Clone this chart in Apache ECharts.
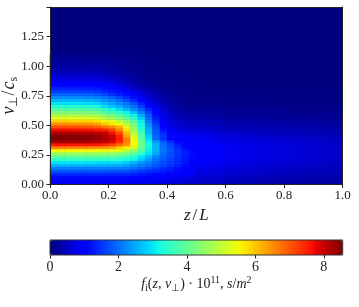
<!DOCTYPE html>
<html><head><meta charset="utf-8">
<script src="https://cdn.jsdelivr.net/npm/echarts@6/dist/echarts.min.js"></script>
<style>html,body{margin:0;padding:0;background:#fff}#c{width:359px;height:307px}</style>
</head><body><div id="c"></div>
<script>
// ---- fine cells: z/L in [0,0.5] (step 0.025), v_perp/c_s step 0.025 ----
const zFine = [0.0125,0.0375,0.0625,0.0875,0.1125,0.1375,0.1625,0.1875,0.2125,0.2375,0.2625,0.2875,0.3125,0.3375,0.3625,0.3875,0.4125,0.4375,0.4625,0.4875];
const vFine = [0.0125,0.0375,0.0625,0.0875,0.1125,0.1375,0.1625,0.1875,0.2125,0.2375,0.2625,0.2875,0.3125,0.3375,0.3625,0.3875,0.4125,0.4375,0.4625,0.4875,0.5125,0.5375,0.5625,0.5875,0.6125,0.6375,0.6625,0.6875,0.7125,0.7375,0.7625,0.7875,0.8125,0.8375,0.8625,0.8875,0.9125,0.9375,0.9625,0.9875,1.0125,1.0375,1.0625,1.0875,1.1125,1.1375,1.1625,1.1875,1.2125,1.2375,1.2625,1.2875,1.3125,1.3375,1.3625,1.3875,1.4125,1.4375,1.4625,1.4875];
// f_i * 1e11; one row per v (bottom up), one value per zFine column
const fineRows = [
[.85,.85,.85,.85,.85,.85,.85,.85,.85,.85,.84,.83,.81,.79,.76,.73,.69,.65,.61,.56],
[1,1,1,1,1,1,1,1,1,1,.99,.97,.94,.91,.88,.84,.8,.75,.7,.65],
[1.15,1.15,1.15,1.15,1.15,1.15,1.15,1.15,1.15,1.14,1.13,1.1,1.06,1.02,.98,.93,.88,.83,.78,.73],
[1.4,1.4,1.4,1.4,1.4,1.4,1.4,1.4,1.39,1.39,1.37,1.32,1.26,1.2,1.14,1.08,1.02,.96,.89,.83],
[1.75,1.75,1.75,1.75,1.75,1.74,1.74,1.74,1.73,1.73,1.7,1.62,1.53,1.44,1.36,1.27,1.18,1.09,1.0,.91],
[2.1,2.1,2.1,2.1,2.09,2.09,2.09,2.08,2.08,2.07,2.05,1.99,1.85,1.71,1.57,1.44,1.3,1.16,1.02,.94],
[2.55,2.55,2.55,2.55,2.54,2.54,2.53,2.52,2.51,2.5,2.42,2.27,2.11,1.95,1.8,1.64,1.49,1.33,1.18,1.02],
[3.0,3.0,3.0,2.99,2.99,2.98,2.97,2.96,2.95,2.92,2.78,2.56,2.33,2.11,1.9,1.73,1.56,1.39,1.22,1.05],
[3.5,3.5,3.5,3.49,3.49,3.48,3.47,3.46,3.45,3.37,3.27,3.1,2.75,2.4,2.05,1.82,1.6,1.42,1.24,1.06],
[4.0,4.0,4.0,3.99,3.99,3.98,3.97,3.96,3.94,3.8,3.56,3.33,3.0,2.6,2.2,1.9,1.7,1.5,1.3,1.12],
[4.6,4.6,4.6,4.59,4.58,4.57,4.56,4.55,4.49,4.37,4.24,3.95,3.45,2.97,2.5,1.98,1.72,1.5,1.3,1.14],
[5.5,5.5,5.49,5.47,5.45,5.43,5.41,5.39,5.36,5.31,4.88,4.42,3.85,3.07,2.58,2.07,1.78,1.52,1.3,1.12],
[6.6,6.6,6.58,6.56,6.53,6.49,6.45,6.41,6.24,5.92,5.6,5.19,4.1,3.15,2.6,2.04,1.73,1.42,1.1,1.01],
[7.6,7.6,7.59,7.58,7.57,7.56,7.51,7.44,7.2,6.82,6.44,5.5,4.18,3.19,2.57,1.97,1.63,1.3,1.0,1.0],
[8.3,8.3,8.29,8.27,8.25,8.22,8.15,8.05,7.81,7.43,6.6,5.5,4.1,3.12,2.4,1.81,1.43,1.04,.99,.98],
[8.55,8.55,8.53,8.51,8.48,8.43,8.36,8.24,8.03,7.55,6.65,5.42,3.9,2.9,1.95,1.46,.99,.96,.93,.9],
[8.5,8.5,8.5,8.48,8.45,8.42,8.35,8.18,7.95,7.45,6.3,5.2,3.85,2.8,1.95,1.55,1.12,.94,.88,.82],
[8.2,8.2,8.2,8.18,8.15,8.12,8.07,8.0,7.65,7.1,6.05,4.9,3.65,2.6,1.85,1.4,.98,.88,.8,.73],
[7.7,7.7,7.7,7.68,7.66,7.63,7.55,7.47,7.15,6.55,5.75,4.65,3.45,2.55,1.8,1.25,.93,.8,.7,.63],
[7.1,7.1,7.1,7.08,7.06,7.02,6.9,6.72,6.53,6.17,5.38,4.4,3.3,2.42,1.7,1.05,.82,.68,.58,.52],
[6.5,6.5,6.48,6.46,6.44,6.43,6.3,6.0,5.72,5.44,4.93,4.2,3.2,2.28,1.58,.98,.75,.6,.5,.44],
[5.9,5.9,5.88,5.86,5.85,5.83,5.73,5.55,5.36,4.95,4.45,3.84,3.1,2.1,1.44,.92,.68,.52,.42,.37],
[5.35,5.35,5.34,5.32,5.3,5.29,5.15,4.88,4.61,4.33,3.95,3.45,2.77,1.94,1.31,.85,.6,.44,.35,.3],
[4.8,4.8,4.79,4.77,4.75,4.73,4.63,4.44,4.26,3.93,3.55,3.14,2.47,1.81,1.19,.8,.55,.38,.29,.24],
[4.3,4.3,4.29,4.27,4.25,4.23,4.1,3.87,3.64,3.41,3.15,2.65,2.15,1.6,1.05,.72,.48,.33,.24,.19],
[3.85,3.85,3.84,3.82,3.8,3.79,3.68,3.47,3.26,2.95,2.6,2.25,1.85,1.35,.96,.64,.42,.28,.2,.15],
[3.4,3.4,3.39,3.37,3.36,3.35,3.22,2.98,2.74,2.5,2.26,2.02,1.6,1.13,.82,.55,.36,.24,.17,.12],
[3.0,3.0,2.99,2.98,2.96,2.95,2.85,2.65,2.45,2.26,2.06,1.73,1.35,.96,.66,.44,.3,.2,.14,.1],
[2.6,2.6,2.59,2.58,2.57,2.55,2.47,2.32,2.17,2.01,1.7,1.39,1.07,.76,.52,.35,.24,.16,.11,.08],
[2.25,2.25,2.24,2.23,2.22,2.2,2.15,2.05,1.88,1.64,1.4,1.17,.93,.66,.45,.3,.2,.14,.1,.07],
[1.9,1.9,1.89,1.88,1.87,1.86,1.78,1.63,1.47,1.32,1.17,1.02,.75,.52,.36,.25,.17,.12,.08,.06],
[1.6,1.6,1.59,1.58,1.57,1.56,1.5,1.38,1.27,1.15,1.03,.8,.56,.39,.27,.19,.13,.09,.06,.05],
[1.33,1.33,1.32,1.32,1.31,1.3,1.26,1.17,1.09,1.0,.76,.55,.39,.28,.2,.14,.1,.07,.05,.04],
[1.1,1.1,1.1,1.09,1.08,1.07,1.05,1.01,.88,.7,.52,.38,.28,.2,.14,.1,.07,.05,.04,.03],
[.92,.92,.92,.91,.9,.89,.87,.83,.73,.58,.43,.32,.23,.16,.12,.08,.06,.04,.03,.02],
[.76,.76,.76,.75,.74,.73,.71,.67,.59,.47,.35,.26,.19,.13,.09,.07,.05,.03,.02,.02],
[.6,.6,.6,.6,.59,.58,.56,.53,.46,.37,.28,.2,.15,.1,.07,.05,.04,.03,.02,.01],
[.5,.5,.5,.49,.49,.48,.46,.43,.38,.3,.23,.17,.12,.08,.06,.04,.03,.02,.01,.01],
[.4,.4,.4,.39,.39,.38,.37,.34,.3,.24,.18,.13,.1,.07,.05,.03,.02,.02,.01,.01],
[.32,.32,.32,.32,.31,.31,.29,.27,.24,.19,.14,.11,.08,.05,.04,.03,.02,.01,.01,0],
[.25,.25,.25,.25,.24,.24,.23,.21,.19,.15,.11,.08,.06,.04,.03,.02,.01,.01,0,0],
[.2,.2,.2,.2,.19,.19,.18,.17,.15,.12,.09,.07,.05,.03,.02,.02,.01,.01,0,0],
[.15,.15,.15,.15,.14,.14,.14,.13,.11,.09,.07,.05,.04,.03,.02,.01,.01,0,0,0],
[.11,.11,.11,.11,.11,.1,.1,.09,.08,.07,.05,.04,.03,.02,.01,.01,0,0,0,0]
];
// ---- tail cells: z/L in [0.5,1] (step 0.05), v step 0.05 ----
const zTail = [0.525,0.575,0.625,0.675,0.725,0.775,0.825,0.875,0.925,0.975];
const vTail = [0.025,0.075,0.125,0.175,0.225,0.275,0.325,0.375,0.425,0.475,0.525,0.575,0.625,0.675,0.725,0.775,0.825,0.875,0.925,0.975,1.025,1.075,1.125,1.175,1.225,1.275,1.325,1.375,1.425,1.475];
// one array per zTail column, v from 0 upwards
const tailCols = [
[.52,.66,.78,.88,.97,1.02,1.0,.9,.75,.57,.42,.3,.2,.13,.08,.05],
[.47,.6,.72,.82,.89,.92,.9,.8,.66,.5,.36,.25,.17,.11,.07,.04],
[.41,.53,.65,.75,.82,.85,.82,.73,.6,.44,.31,.21,.14,.09,.05,.03],
[.37,.49,.61,.7,.77,.8,.78,.69,.56,.42,.3,.2,.13,.08,.05,.03],
[.35,.46,.57,.66,.73,.76,.74,.65,.53,.4,.28,.19,.12,.08,.05,.02],
[.33,.43,.54,.63,.69,.72,.7,.62,.5,.37,.27,.18,.12,.07,.04,.02],
[.31,.41,.51,.59,.65,.68,.66,.58,.48,.35,.25,.17,.11,.07,.04,.02],
[.29,.38,.48,.56,.61,.64,.62,.55,.45,.33,.24,.16,.1,.06,.04,.02],
[.27,.36,.45,.52,.58,.6,.58,.52,.42,.31,.22,.15,.1,.06,.04,.02],
[.26,.34,.43,.5,.55,.57,.55,.49,.4,.3,.21,.14,.09,.06,.03,.02]
];
const colorMin = 0, colorMax = 8.55;

const fineData = [];
fineRows.forEach((row, j) => row.forEach((val, i) => fineData.push([i, j, val])));
const tailData = [];
tailCols.forEach((col, i) => col.forEach((val, j) => tailData.push([i, j, val])));

// matplotlib "jet" colormap
function seg(t, pts){for(let k=1;k<pts.length;k++){if(t<=pts[k][0]){const a=pts[k-1],b=pts[k];return a[1]+(b[1]-a[1])*(t-a[0])/(b[0]-a[0]);}}return pts[pts.length-1][1];}
function jet(t){
  const r=seg(t,[[0,0],[0.35,0],[0.66,1],[0.89,1],[1,0.5]]);
  const g=seg(t,[[0,0],[0.125,0],[0.375,1],[0.64,1],[0.91,0],[1,0]]);
  const b=seg(t,[[0,0.5],[0.11,1],[0.34,1],[0.65,0],[1,0]]);
  const h=x=>Math.round(x*255).toString(16).padStart(2,'0');
  return '#'+h(r)+h(g)+h(b);
}
const jetStops=[];for(let k=0;k<=100;k++)jetStops.push(jet(k/100));

const FONT='Liberation Serif';
const base={fontFamily:FONT,color:'#222'};
const PL=50, PT=7, PW=292.7, PH=177.5;
const chart=echarts.init(document.getElementById('c'),null,{renderer:'canvas'});
const frameLine={show:true,onZero:false,lineStyle:{color:'#222',width:1}};
chart.setOption({
  animation:false,
  backgroundColor:'#fff',
  grid:[
    {left:PL,top:PT,width:PW,height:PH,show:true,backgroundColor:'#000080',borderWidth:0,outerBoundsMode:'none'},
    {left:PL,top:PT,width:PW/2,height:PH,outerBoundsMode:'none'},
    {left:PL+PW/2,top:PT,width:PW/2,height:PH,outerBoundsMode:'none'},
    {left:PL,top:240,width:PW,height:15,show:true,backgroundColor:'transparent',borderColor:'#333',borderWidth:1,z:10,outerBoundsMode:'none'}
  ],
  xAxis:[
    {type:'value',gridIndex:0,min:0,max:1,interval:0.2,position:'bottom',z:10,splitLine:{show:false},
     axisLine:frameLine,
     axisTick:{show:true,inside:false,length:3.5,lineStyle:{color:'#222'}},
     axisLabel:Object.assign({fontSize:13,margin:5,formatter:v=>v.toFixed(1)},base),
     name:'{it|z}{n|/}{it|L}',nameLocation:'middle',nameGap:21,
     nameTextStyle:{rich:{it:Object.assign({fontSize:17,fontStyle:'italic'},base),n:Object.assign({fontSize:17,padding:[0,2,0,2]},base)}}},
    {type:'value',gridIndex:0,min:0,max:1,position:'top',z:10,splitLine:{show:false},
     axisLine:frameLine,axisTick:{show:false},axisLabel:{show:false}},
    {type:'category',gridIndex:1,data:zFine,show:false},
    {type:'category',gridIndex:2,data:zTail,show:false},
    {type:'value',gridIndex:3,min:colorMin,max:colorMax,interval:2,position:'bottom',splitLine:{show:false},
     axisLine:{show:false,onZero:false},
     axisTick:{show:true,inside:false,length:3.5,lineStyle:{color:'#222'}},
     axisLabel:Object.assign({fontSize:14,margin:5,showMaxLabel:false,formatter:v=>String(v)},base),
     name:'{it|f}{sub|i}{n|(}{it|z}{n|, }{it|v}{sub|⊥}{n|) · 10}{sup|11}{n|, }{it|s}{n|/}{it|m}{sup|2}',
     nameLocation:'middle',nameGap:20,
     nameTextStyle:{rich:{
       it:Object.assign({fontSize:14,fontStyle:'italic',lineHeight:18},base),
       n:Object.assign({fontSize:14,lineHeight:18},base),
       sub:Object.assign({fontSize:10,lineHeight:10,verticalAlign:'bottom'},base),
       sup:Object.assign({fontSize:10,lineHeight:10,verticalAlign:'top'},base)}}}
  ],
  yAxis:[
    {type:'value',gridIndex:0,min:0,max:1.5,interval:0.25,position:'left',z:10,splitLine:{show:false},
     axisLine:frameLine,
     axisTick:{show:true,inside:false,length:3.5,lineStyle:{color:'#222'}},
     axisLabel:Object.assign({fontSize:13,margin:6,formatter:v=>v>1.4?'':v.toFixed(2)},base),
     name:'{it|v}{sub|⊥}{n|/}{it|c}{sub|s}',nameLocation:'middle',nameGap:30,nameRotate:90,nameMoveOverlap:false,
     nameTextStyle:{rich:{
       it:Object.assign({fontSize:18,fontStyle:'italic',lineHeight:22},base),
       n:Object.assign({fontSize:18,lineHeight:22,padding:[0,1,0,1]},base),
       sub:Object.assign({fontSize:12,lineHeight:12,verticalAlign:'bottom'},base)}}},
    {type:'value',gridIndex:0,min:0,max:1.5,position:'right',z:10,splitLine:{show:false},
     axisLine:frameLine,axisTick:{show:false},axisLabel:{show:false}},
    {type:'category',gridIndex:1,data:vFine,show:false},
    {type:'category',gridIndex:2,data:vTail,show:false},
    {type:'value',gridIndex:3,min:0,max:1,show:false}
  ],
  visualMap:{
    type:'continuous',min:colorMin,max:colorMax,seriesIndex:[0,1],dimension:2,
    orient:'horizontal',left:PL,top:240,itemWidth:15,itemHeight:PW,padding:0,
    calculable:false,hoverLink:false,inRange:{color:jetStops}
  },
  series:[
    {type:'heatmap',xAxisIndex:2,yAxisIndex:2,data:fineData,itemStyle:{borderWidth:0},emphasis:{disabled:true},progressive:0},
    {type:'heatmap',xAxisIndex:3,yAxisIndex:3,data:tailData,itemStyle:{borderWidth:0},emphasis:{disabled:true},progressive:0}
  ]
});
</script></body></html>
